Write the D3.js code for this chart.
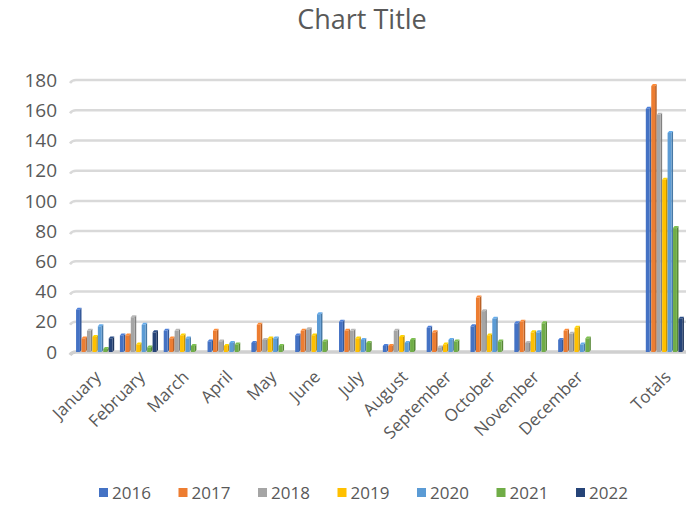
<!DOCTYPE html>
<html>
<head>
<meta charset="utf-8">
<script src="https://cdn.jsdelivr.net/npm/d3@7"></script>
<style>
  body { margin: 0; background: #fff; }
  text { font-family: "Open Sans", "Noto Sans", sans-serif; fill: #595959; }
</style>
</head>
<body>
<svg id="chart" width="695" height="508"></svg>
<script>
// categories (one empty slot before Totals, as in the sheet)
let categories = ["January", "February", "March", "April", "May", "June", "July", "August", "September", "October", "November", "December", "", "Totals"];
let years = ["2016", "2017", "2018", "2019", "2020", "2021", "2022"];
let colors = ["#4472c4", "#ed7d31", "#a5a5a5", "#ffc000", "#5b9bd5", "#70ad47", "#264478"];

// values per year, Jan..Dec, blank, Totals
let v2016 = [28, 11, 14, 7, 6, 11, 20, 4, 16, 17, 19, 8, null, 161];
let v2017 = [9, 11, 9, 14, 18, 14, 14, 4, 13, 36, 20, 14, null, 176];
let v2018 = [14, 23, 14, 7, 8, 15, 14, 14, 3, 27, 6, 12, null, 157];
let v2019 = [10, 5, 11, 4, 9, 11, 9, 10, 5, 11, 13, 16, null, 114];
let v2020 = [17, 18, 9, 6, 9, 25, 8, 6, 8, 22, 13, 5, null, 145];
let v2021 = [2, 3, 4, 5, 4, 7, 6, 8, 7, 7, 19, 9, null, 82];
let v2022 = [9, 13, null, null, null, null, null, null, null, null, null, null, null, 22];
let yTicks = [0, 20, 40, 60, 80, 100, 120, 140, 160, 180];

let series = [v2016, v2017, v2018, v2019, v2020, v2021, v2022];

const svg = d3.select("#chart");

let x0 = d3.scaleBand().domain(categories).range([73, 687]).paddingInner(0.13).paddingOuter(0.07);
let x1 = d3.scaleBand().domain(years).range([0, x0.bandwidth()]);
let y = d3.scaleLinear().domain([0, 180]).range([352, 80]);

// title
svg.append("text")
  .attr("x", 362).attr("y", 29)
  .attr("text-anchor", "middle")
  .style("font-size", "27px")
  .text("Chart Title");

// gridlines on the back wall
svg.append("g").selectAll("path")
  .data(yTicks)
  .enter()
  .append("path")
  .attr("d", d => "M70," + (y(d) + 3) + " Q72," + y(d) + " 76," + y(d) + " L686," + y(d))
  .attr("fill", "none")
  .attr("stroke", d => d == 0 ? "#d0d0d0" : "#d9d9d9")
  .attr("stroke-width", d => d == 0 ? 3.5 : 2.5);

// y labels
svg.append("g").selectAll("text")
  .data(yTicks)
  .enter()
  .append("text")
  .attr("x", 57)
  .attr("y", d => y(d))
  .attr("dy", "0.35em")
  .attr("text-anchor", "end")
  .style("font-size", "19px")
  .text(d => d);

// bars with a little 3d look
let bars = [];
series.forEach((vals, s) => {
  vals.forEach((v, i) => {
    if (v != null) bars.push({year: years[s], cat: categories[i], value: v, color: colors[s]});
  });
});

let dx = 1.6, dy = 2;
let fw = x1.bandwidth() - dx;
let base = y(0);

let g = svg.append("g");
bars.forEach(b => {
  let bx = x0(b.cat) + x1(b.year);
  let by = y(b.value);
  let c = d3.color(b.color);
  // side face
  g.append("path")
    .attr("d", `M${bx + fw},${by} L${bx + fw + dx},${by - dy} L${bx + fw + dx},${base - dy} L${bx + fw},${base} Z`)
    .attr("fill", c.darker(0.7));
  // top face
  g.append("path")
    .attr("d", `M${bx},${by} L${bx + dx},${by - dy} L${bx + fw + dx},${by - dy} L${bx + fw},${by} Z`)
    .attr("fill", c.brighter(0.3));
  // front face
  g.append("rect")
    .attr("x", bx).attr("y", by)
    .attr("width", fw).attr("height", base - by)
    .attr("fill", b.color);
});

// category labels, rotated
svg.append("g").selectAll("text")
  .data(categories.filter(d => d != ""))
  .enter()
  .append("text")
  .attr("transform", d => "translate(" + (x0(d) + x0.bandwidth() / 2 + 7) + ",378) rotate(-45)")
  .attr("text-anchor", "end")
  .style("font-size", "17px")
  .text(d => d);

// legend
let legend = svg.append("g").selectAll("g")
  .data(years)
  .enter()
  .append("g")
  .attr("transform", (d, i) => "translate(" + (99 + i * 79.5) + ",493)");

legend.append("rect")
  .attr("x", 0).attr("y", -5)
  .attr("width", 9).attr("height", 9)
  .attr("fill", (d, i) => colors[i]);

legend.append("text")
  .attr("x", 13).attr("y", 0)
  .attr("dy", "0.35em")
  .style("font-size", "17px")
  .text(d => d);
</script>
</body>
</html>
